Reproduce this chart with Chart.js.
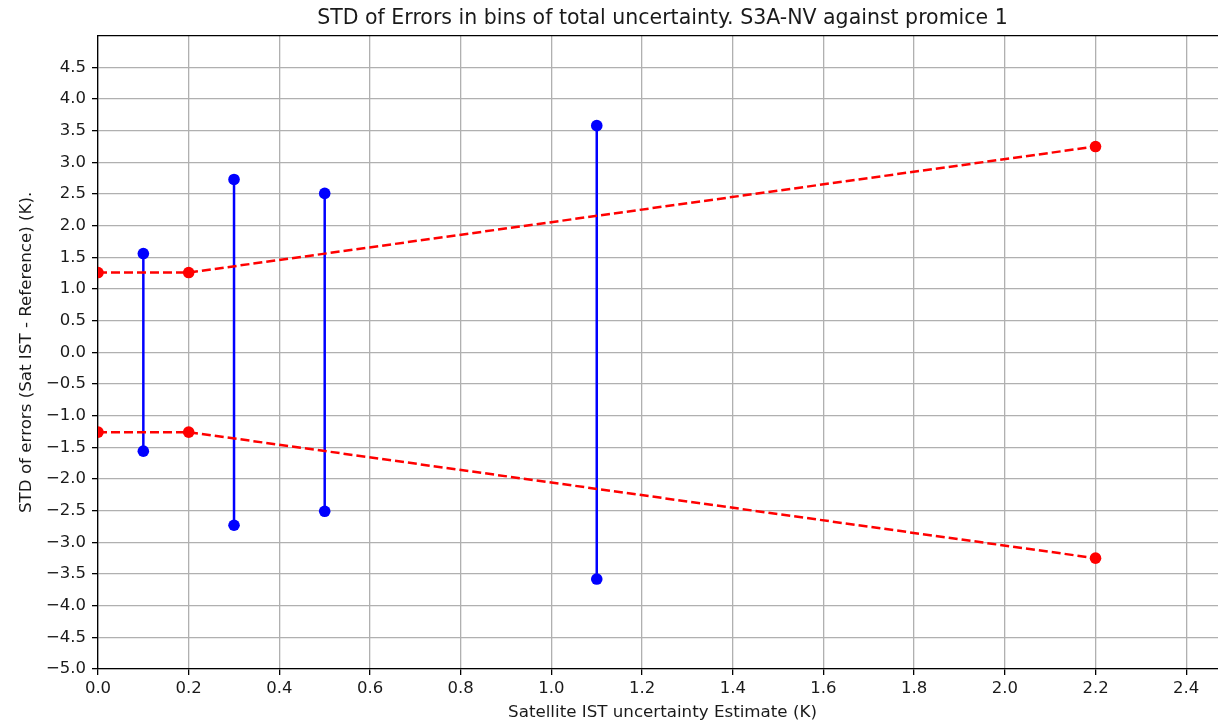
<!DOCTYPE html>
<html>
<head>
<meta charset="utf-8">
<script src="https://cdn.jsdelivr.net/npm/chart.js@4"></script>
<style>
  html, body { margin: 0; padding: 0; background: #fff; overflow: hidden; }
  #wrap { width: 1218px; height: 723px; overflow: hidden; }
</style>
</head>
<body>
<div id="wrap"><canvas id="stdChart" width="1227" height="723"></canvas></div>
<script>
// per-bin STD of errors (drawn as +/- bars)
var binX = [0.1, 0.3, 0.5, 1.1];
var binStd = [1.56, 2.73, 2.51, 3.58];

// reference uncertainty envelope
var refX = [0.0, 0.2, 2.2];
var refStd = [1.26, 1.26, 3.25];

var xTicks = [0.0, 0.2, 0.4, 0.6, 0.8, 1.0, 1.2, 1.4, 1.6, 1.8, 2.0, 2.2, 2.4];
var yTicks = [-5.0, -4.5, -4.0, -3.5, -3.0, -2.5, -2.0, -1.5, -1.0, -0.5, 0.0,
              0.5, 1.0, 1.5, 2.0, 2.5, 3.0, 3.5, 4.0, 4.5];

var FONT = 'DejaVu Sans';
var TXT = '#1a1a1a';
var X_MAX = 2.49;

function fmt(v) {
  return v.toFixed(1).replace('-', '\u2212');
}

var datasets = [];

// red dashed envelope, upper and lower
[1, -1].forEach(function (sign) {
  datasets.push({
    data: refX.map(function (x, i) { return { x: x, y: sign * refStd[i] }; }),
    borderColor: '#ff0000', backgroundColor: '#ff0000',
    borderWidth: 2.5, borderDash: [9, 4],
    pointRadius: 5.8, pointHoverRadius: 5.8, pointBorderWidth: 0,
    tension: 0, clip: 0
  });
});

binX.forEach(function (x, i) {
  datasets.push({
    data: [{ x: x, y: -binStd[i] }, { x: x, y: binStd[i] }],
    borderColor: '#0000ff', backgroundColor: '#0000ff',
    borderWidth: 2.5,
    pointRadius: 5.8, pointHoverRadius: 5.8, pointBorderWidth: 0,
    tension: 0
  });
});

// top spine of the axes box
var topSpine = {
  id: 'topSpine',
  afterDraw: function (chart) {
    var a = chart.chartArea, ctx = chart.ctx;
    ctx.save();
    ctx.strokeStyle = '#000';
    ctx.lineWidth = 1.3;
    ctx.beginPath();
    ctx.moveTo(a.left, a.top);
    ctx.lineTo(a.right, a.top);
    ctx.stroke();
    ctx.restore();
  }
};

function setTicks(list) {
  return function (scale) {
    scale.ticks = list.map(function (v) { return { value: v }; });
  };
}

new Chart(document.getElementById('stdChart').getContext('2d'), {
  type: 'line',
  data: { datasets: datasets },
  plugins: [topSpine],
  options: {
    responsive: false,
    animation: false,
    events: [],
    layout: { padding: 0, autoPadding: false },
    plugins: {
      legend: { display: false },
      tooltip: { enabled: false }
    },
    scales: {
      // top axis only carries the plot title, centred over the axes
      top: {
        type: 'linear', position: 'top',
        min: 0, max: X_MAX,
        afterFit: function (s) { s.height = 35.7; s.paddingLeft = 0; s.paddingRight = 0; },
        grid: { display: false },
        border: { display: false },
        ticks: { display: false },
        title: {
          display: true,
          text: 'STD of Errors in bins of total uncertainty. S3A-NV against promice 1',
          color: TXT,
          font: { family: FONT, size: 20.5 },
          padding: { top: 6, bottom: 0 }
        }
      },
      x: {
        type: 'linear', position: 'bottom',
        min: 0, max: X_MAX,
        afterBuildTicks: setTicks(xTicks),
        afterFit: function (s) { s.height = 54; s.paddingLeft = 0; s.paddingRight = 0; },
        grid: { color: '#b0b0b0', lineWidth: 1.3, tickColor: '#000', tickLength: 6 },
        border: { color: '#000', width: 1.3 },
        ticks: {
          color: TXT, padding: 4, maxRotation: 0, autoSkip: false,
          font: { family: FONT, size: 16.5 },
          callback: function (v) { return fmt(v); }
        },
        title: {
          display: true,
          text: 'Satellite IST uncertainty Estimate (K)',
          color: TXT,
          font: { family: FONT, size: 16.7 },
          padding: { top: 0, bottom: 0.5 }
        }
      },
      y: {
        type: 'linear',
        min: -5.0, max: 5.0,
        afterBuildTicks: setTicks(yTicks),
        afterFit: function (s) { s.width = 98; s.paddingTop = 0; s.paddingBottom = 0; },
        grid: { color: '#b0b0b0', lineWidth: 1.3, tickColor: '#000', tickLength: 6 },
        border: { color: '#000', width: 1.3 },
        ticks: {
          color: TXT, padding: 6, autoSkip: false,
          font: { family: FONT, size: 16.5 },
          callback: function (v) { return fmt(v); }
        },
        title: {
          display: true,
          text: 'STD of errors (Sat IST - Reference) (K).',
          color: TXT,
          font: { family: FONT, size: 16.7 },
          padding: { top: 16.5, bottom: 0 }
        }
      }
    }
  }
});
</script>
</body>
</html>
